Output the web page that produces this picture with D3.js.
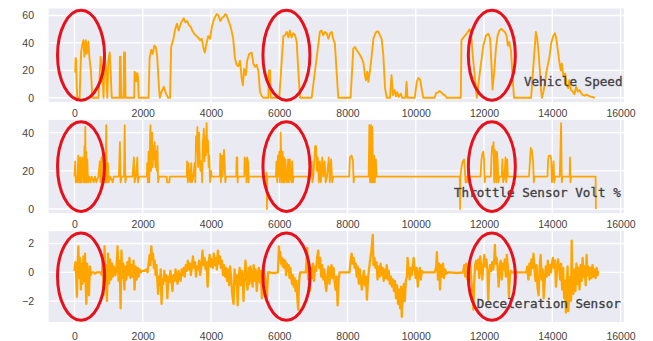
<!DOCTYPE html>
<html>
<head>
<meta charset="utf-8">
<script src="https://cdn.jsdelivr.net/npm/d3@7"></script>
<style>
  html, body { margin: 0; padding: 0; background: #ffffff; }
  svg { display: block; }
</style>
</head>
<body>
<svg id="chart" width="653" height="341"></svg>
<script>
// ---- recorded signals: [sample index, value] ----
const speedPts = [
  [0,19],[20,19],[30,29],[45,28],[65,8],[80,0],[150,0],[190,33],[230,39],[260,42],[290,30],[330,42],[356,32],[405,41],[434,30],[483,19],[522,0],
  [700,0],[730,13],[765,30],[810,22],[850,0],[880,31],[920,22],[960,0],[990,27],[1030,33],[1060,18],[1090,0],
  [1320,0],[1330,30],[1350,30],[1370,0],[1440,0],[1450,33],[1480,33],[1495,0],
  [1750,0],[1760,19],[1790,17],[1810,12],[1840,18],[1860,15],[1880,0],
  [2170,0],[2200,29],[2250,35],[2290,32],[2340,38],[2380,37],[2420,31],[2470,9],[2500,0],[2560,5],[2620,8],[2680,3],[2740,0],[2800,0],
  [2830,37],[2900,43],[2950,50],[3000,54],[3050,49],[3100,53],[3150,56],[3200,58],[3250,55],[3300,56],[3350,53],[3400,52],[3450,49],[3500,47],
  [3550,45.5],[3620,44],[3680,42],[3730,43],[3780,36],[3820,33],[3870,40],[3920,45],[3970,43],[4020,51],[4070,56],[4120,59],[4170,61],[4220,60],
  [4270,56],[4320,58],[4370,59],[4420,61],[4460,60],[4510,56],[4560,53],[4600,49],[4650,43],[4700,29],[4750,24],[4800,23],[4850,27],[4900,14],
  [4935,9],[4970,21],[5020,16.5],[5060,27],[5120,32],[5190,33],[5240,25],[5290,22.5],[5340,24],[5390,19],[5435,4.4],[5480,1.5],[5530,0],
  [5680,0],[5700,20],[5730,20],[5750,0],
  [6000,0],[6120,45],[6170,45.5],[6220,48],[6270,44],[6310,49],[6360,44],[6410,47],[6460,46],[6510,41],[6560,19],[6610,0],
  [6950,0],[7190,48],[7240,49],[7290,45.5],[7340,48],[7390,47],[7440,43],[7490,47],[7540,48],[7580,43],[7630,39.5],[7680,19],[7730,0],
  [8090,0],[8170,36],[8220,37],[8270,34.6],[8320,33],[8370,31],[8420,28.6],[8470,25],[8510,16.5],[8540,12.8],[8580,19],[8610,11.6],[8660,20],
  [8710,31],[8760,43],[8810,46.7],[8860,48.4],[8910,48],[8950,45.5],[9000,43],[9050,31],[9100,6.8],[9150,0],
  [9245,0],[9290,16.5],[9330,2],[9380,5.6],[9420,1],[9460,4],[9500,0.5],[9560,3],[9600,0],[9700,0],[9730,11.6],[9760,0],
  [9970,0],[10030,11.6],[10080,14.5],[10130,13],[10170,6.8],[10220,0],
  [10550,0],[10600,3.5],[10650,3.9],[10700,4.9],[10750,3.9],[10800,2.5],[10850,2],[10900,0],
  [11320,0],[11340,42],[11400,44],[11450,45.5],[11500,47],[11550,49],[11580,50],[11620,46.7],[11670,31],[11790,0],[11880,19],[11980,38],
  [12060,45.5],[12130,46.7],[12180,43],[12220,23.7],[12250,6],[12300,19],[12350,35.8],[12400,45.5],[12450,49],[12500,50.3],[12560,49],
  [12610,48],[12660,45.5],[12700,38],[12740,40.7],[12790,34.6],[12840,14],[12880,0],
  [13380,0],[13520,48],[13560,43],[13600,33],[13640,19],[13670,5.6],[13700,0],[13740,4],[13790,11.6],[13830,19],[13870,24],[13920,30],
  [13970,40],[14030,45],[14080,47],[14120,43],[14170,33.4],[14210,26],[14250,20],[14280,25],[14330,15.3],[14380,17.7],[14420,9.2],[14470,7],
  [14500,12.8],[14550,5.6],[14600,4.5],[14650,2.6],[14700,8],[14750,4.5],[14800,5.6],[14850,3.2],[14900,2],[14950,1.5],[15000,2.4],[15100,1],[15250,0]
];

const throttlePts = [
  [0,17],[20,25],[35,14],[50,17],[70,14],[90,17],[110,28],[125,14],[140,26],[155,14],[170,27],[185,14],[200,25],[215,14],[230,27],[245,17],
  [260,26],[275,14],[290,33],[300,14],[315,43],[330,14],[345,30],[360,14],[375,26],[390,17],[405,14],[420,17],
  [430,17],[470,14],[500,17],[560,14],[600,17],[640,14],[700,17],[740,25],[760,14],[790,27],[810,14],[840,30],[860,14],[880,25],[900,14],
  [930,44],[950,14],[980,24],[1000,14],[1050,17],[1120,14],[1150,17],[1300,17],[1330,35],[1350,14],[1380,17],[1450,17],[1470,44],[1490,14],
  [1520,17],[1700,17],[1740,27],[1760,14],[1800,17],[1840,27],[1860,14],[1890,17],
  [2120,17],[2130,24],[2150,14],[2170,30],[2190,14],[2210,35],[2225,44],[2240,20],[2260,32],[2275,40],[2290,22],[2310,33],[2330,26],[2350,35],
  [2370,22],[2390,30],[2410,20],[2430,33],[2450,14],[2470,17],
  [2700,17],[2710,14],[2780,14],[2790,17],
  [3290,17],[3300,25],[3320,14],[3340,24],[3360,17],[3390,14],[3420,24],[3440,14],[3480,17],[3520,24],[3540,14],[3560,38],[3580,30],[3600,43],
  [3620,22],[3650,40],[3670,26],[3690,20],[3720,25],[3740,14],[3760,35],[3790,42],[3810,25],[3830,38],[3850,28],[3870,45],[3890,30],[3910,36],
  [3930,22],[3950,28],[3970,14],[4000,20],[4020,17],
  [4260,17],[4270,29],[4290,14],[4320,28],[4340,17],[4380,31],[4400,24],[4420,14],[4440,17],
  [4740,17],[4750,27],[4770,27],[4780,14],[4790,17],
  [4975,17],[4985,27],[5020,26],[5040,14],[5060,27],[5090,24],[5100,14],[5110,17],
  [5620,17],[5630,19],[5640,0],[5650,17],
  [5900,17],[5920,25],[5940,14],[5960,28],[5980,17],[6000,30],[6020,14],[6040,40],[6060,26],[6080,14],[6100,30],[6120,14],[6140,27],[6160,14],
  [6180,26],[6200,17],[6230,14],[6260,26],[6280,14],[6310,26],[6330,17],[6360,14],[6380,25],[6400,14],[6420,17],
  [6850,17],[6870,14],[6900,17],[6950,25],[6970,14],[7000,17],[7050,33],[7080,33],[7100,20],[7130,27],[7160,14],[7190,25],[7220,14],[7260,27],
  [7290,17],[7330,25],[7360,14],[7400,17],[7450,27],[7480,14],[7520,26],[7550,14],[7580,17],
  [8050,17],[8070,27],[8120,28],[8160,25],[8180,14],[8200,17],
  [8620,17],[8640,44],[8660,14],[8690,44],[8710,14],[8730,43],[8750,14],[8780,28],[8800,14],[8830,26],[8850,17],
  [11290,17],[11300,0],[11310,17],[11340,22],[11380,25],[11420,26],[11440,20],[11460,14],[11480,17],[11500,14],[11530,17],
  [11900,17],[11920,25],[11950,29],[11980,30],[12000,26],[12020,14],[12040,17],
  [12200,17],[12220,28],[12240,33],[12260,30],[12280,35],[12300,14],[12320,31],[12340,27],[12360,14],[12380,30],[12400,25],[12420,14],[12450,17],
  [12520,17],[12540,26],[12560,14],[12600,17],[12630,27],[12650,14],[12680,26],[12700,17],
  [13320,17],[13350,26],[13370,32],[13400,31],[13420,28],[13440,25],[13460,14],[13480,17],
  [13860,17],[13880,26],[13900,28],[13950,28],[13970,26],[13990,14],[14010,17],[14040,25],[14060,14],[14080,17],
  [14220,17],[14240,30],[14260,45],[14280,14],[14300,17],
  [14510,17],[14520,27],[14535,14],[14550,17],
  [15270,17],[15280,0]
];

const decelPts = [
  [0,0.1],[25,0.7],[50,-0.3],[70,-1.7],[90,0.4],[112,1.8],[135,-0.4],[160,1.0],[185,-1.2],[210,0.6],[235,-0.8],[260,1.1],[285,-0.6],[307,1.3],
  [330,-1.0],[346,-2.2],[370,0.6],[395,-0.4],[423,-1.6],[450,0.4],[475,-0.2],[501,0],[560,0],[600,-0.1],[650,0],[700,0],[764,0],[800,-0.2],
  [830,0.9],[850,-1.6],[880,1.8],[900,-0.6],[925,0.5],[950,-2.0],[980,1.3],[1010,-0.8],[1040,0.9],[1070,-0.5],[1100,0.6],[1130,-0.3],[1160,0.4],
  [1200,-0.2],[1230,0.2],[1260,1.8],[1290,-0.6],[1320,0.8],[1350,-2.5],[1375,1.5],[1400,-0.4],[1430,0.6],[1460,-1.2],[1490,0.4],
  [1520,-0.5],[1550,0.7],[1580,-0.2],[1610,1.0],[1640,-0.4],[1670,0.5],[1700,-0.3],[1730,0.8],[1760,-1.2],[1790,0.4],[1820,-0.5],[1850,0.3],
  [1880,-0.3],[1910,0.2],[1940,0],[1970,0.1],[2000,0.1],[2050,0.1],[2100,0.2],[2140,0],
  [2180,0.8],[2200,1.2],[2225,0.5],[2250,1.8],[2275,0.9],[2300,1.3],[2325,0.3],[2350,0.8],[2375,-0.2],[2400,0.5],[2425,-0.5],[2450,-1.5],
  [2475,-0.3],[2500,-0.9],[2525,0.2],[2550,-2.2],[2575,-0.5],[2600,-0.8],[2630,0.1],[2660,-0.6],
  [2690,-0.2],[2720,-1.8],[2750,-0.3],[2780,-0.7],[2810,0.1],[2840,-0.5],[2870,-1.3],[2900,-0.2],[2930,-0.6],[2960,0.2],[2990,-0.4],[3020,-0.8],
  [3050,0.1],[3080,-0.3],[3110,-0.6],[3140,0.2],[3170,-0.2],[3200,0.3],[3230,-0.3],
  [3260,0.5],[3290,0.1],[3320,0.8],[3350,0.2],[3380,0.6],[3410,-0.2],[3440,0.4],[3470,1.1],[3500,0.3],[3530,0.7],[3560,-0.3],[3590,0.4],
  [3620,0.2],[3650,0.8],[3680,-0.2],[3710,0.3],
  [3750,1.5],[3780,0.5],[3810,1.0],[3840,0.2],[3870,0.7],[3900,-1.0],[3930,0.6],[3960,1.2],[3990,0.4],[4020,0.9],[4050,0.3],[4080,1.3],
  [4110,0.5],[4140,1.0],[4170,0.2],[4200,1.5],[4230,0.6],[4260,1.1],[4290,0.3],[4320,0.8],[4350,-0.2],[4380,0.5],
  [4410,-0.3],[4440,0.3],[4470,-0.6],[4500,0.2],[4530,-0.9],[4560,0.4],[4590,-0.4],[4620,-1.5],[4660,-2.2],[4690,0.2],[4720,-0.8],[4750,-0.2],
  [4780,-2.3],[4810,-0.4],[4840,0.3],[4870,-0.9],[4900,0.1],[4930,-0.5],[4950,-2.0],[4980,-0.2],
  [5010,0.8],[5040,-0.5],[5070,-1.2],[5100,0.3],[5130,-0.8],[5160,0.4],[5190,-0.3],[5220,-1.0],[5250,0.5],[5280,-0.6],[5310,0.2],[5340,-1.3],
  [5370,-0.2],[5400,0.3],[5430,-0.7],[5460,0.1],[5490,-1.8],[5520,-0.3],[5550,0.2],[5590,-0.5],[5640,-1.7],[5670,0],
  [5720,0],[5800,-0.05],[5900,-0.05],[5960,0],
  [5990,1.8],[6010,1.0],[6030,1.4],[6050,0.6],[6075,1.0],[6100,0.4],[6125,0.9],[6150,0.3],[6175,0.8],[6200,-0.2],[6225,0.6],[6250,0.1],
  [6275,0.5],[6300,-0.4],[6325,0.3],[6350,-0.3],[6375,-0.8],[6400,-0.2],[6425,-1.0],[6450,-0.4],[6475,-1.3],[6500,-0.6],[6530,-1.8],[6555,-2.6],
  [6580,-0.7],[6610,0],[6700,0],[6780,0],
  [6820,1.7],[6845,-0.5],[6870,0.5],[6900,-1.3],[6930,0.3],[6960,-0.4],[6990,0.6],[7020,-0.6],[7050,0.4],[7080,0.1],[7110,1.0],[7140,1.5],
  [7170,0.3],[7200,1.0],[7230,-0.3],[7260,0.5],[7290,-0.5],[7320,0.2],[7350,-0.8],[7380,-1.3],[7410,-0.2],[7440,0.4],[7470,-0.8],[7500,0.1],
  [7530,0.5],[7560,-0.4],[7590,0.3],[7620,-0.6],[7650,-1.2],[7680,-0.3],[7710,-2.3],[7740,-0.5],[7770,0],
  [7800,0],[7900,0],[8000,0],[8060,0],
  [8090,0.8],[8120,1.3],[8150,0.6],[8180,1.0],[8210,0.3],[8240,0.6],[8270,-0.3],[8300,0.4],[8330,-0.8],[8360,0.2],[8390,-0.5],[8420,-1.2],
  [8450,-0.4],[8480,0.1],[8510,-0.9],[8540,-0.3],[8570,-1.9],[8600,-0.5],[8630,0.2],
  [8660,0.8],[8700,1.5],[8740,2.6],[8760,0.5],[8790,1.0],[8820,0.3],[8850,0.7],[8880,-0.5],[8910,0.4],[8940,-0.3],[8970,0.6],[9000,-0.2],
  [9030,0.3],[9060,-0.6],[9090,0.2],[9120,-0.4],[9150,0.5],[9180,-0.5],[9210,0.1],[9240,-0.8],[9270,-0.3],[9300,-1.0],[9330,-0.5],
  [9360,-1.3],[9390,-0.6],[9420,-1.8],[9450,-0.9],[9480,-2.2],[9510,-1.2],[9540,-2.5],[9570,-1.0],[9590,-3.1],[9620,-1.5],[9650,-0.8],
  [9680,-2.0],[9710,-0.6],[9740,-0.3],
  [9760,1.0],[9790,0.2],[9820,-0.5],[9850,0.3],[9880,-0.2],[9910,0.4],[9940,1.0],[9970,0.2],[10000,-0.4],[10030,0.3],[10060,-1.0],[10090,-0.2],
  [10120,0.3],[10150,-0.5],[10180,0.1],[10210,0],
  [10260,0],[10400,0],[10560,0],
  [10600,0.4],[10620,1.4],[10650,-0.5],[10680,0.6],[10710,-1.2],[10740,0.5],[10770,-0.3],[10800,0.6],[10830,-0.4],[10860,0.2],[10900,-0.1],[10950,0],
  [11000,0],[11200,-0.05],[11390,0],
  [11420,0.5],[11450,-0.3],[11480,0.6],[11510,-0.5],[11540,0.3],[11570,-0.2],[11600,0.5],[11630,-0.6],[11660,-1.5],[11690,-2.6],[11710,-0.8],
  [11740,0.5],[11770,0.8],[11800,0.2],[11830,0.9],[11860,-0.4],[11890,1.1],[11920,0.3],[11950,-0.5],[11980,0.5],[12010,1.2],[12040,0.4],
  [12070,0.9],[12100,0.1],[12125,-1.9],[12150,-0.2],[12180,0.5],[12210,0.1],[12240,0.7],[12270,0.2],[12300,0.9],[12320,1.9],[12340,0.6],
  [12370,1.0],[12400,0.3],[12430,-1.0],[12460,0.4],[12490,0.8],[12520,-0.5],[12550,0.6],[12580,0.2],[12610,0.9],[12640,-0.3],[12670,1.2],
  [12700,0.3],[12730,-1.7],[12760,-0.2],[12790,0.1],[12810,0],
  [12900,0],[13100,0],[13240,0],
  [13270,0.4],[13300,-0.5],[13330,0.6],[13360,-0.2],[13390,0.9],[13420,0.3],[13450,1.3],[13480,0.2],[13510,-0.6],[13540,0.5],[13570,-1.1],
  [13600,-1.6],[13630,0.3],[13660,1.2],[13690,-0.5],[13720,0.2],[13750,-1.8],[13780,-0.6],[13810,0.4],[13840,-0.3],[13870,0.8],[13900,-0.2],
  [13930,0.5],[13960,0],[13990,0.6],[14020,1.0],[14050,0.3],[14080,0.8],[14110,-1.0],[14140,0.2],[14170,0.9],[14200,0.4],[14230,-0.5],
  [14260,0.6],[14290,-1.2],[14320,0.3],[14350,-1.8],[14380,-0.6],[14400,-2.8],[14420,-1.0],[14450,0.4],[14470,-2.7],[14500,-1.2],[14530,-0.3],
  [14550,-2.0],[14570,2.2],[14590,-0.8],[14620,-1.5],[14650,0.2],[14680,-1.3],[14710,0.6],[14740,-0.8],[14770,0.3],[14800,-1.2],[14830,0.5],
  [14860,-0.6],[14890,1.0],[14920,-0.3],[14950,0.4],[14980,-0.9],[15007,1.2],[15030,-0.2],[15060,0.4],[15090,-0.5],[15120,0.3],[15150,-0.4],
  [15180,0.5],[15210,-0.3],[15240,0.2],[15270,-0.4],[15300,0.3],[15330,-0.2],[15350,0.1]
];

// ---- tick values and names ----
const xTicks = [0, 2000, 4000, 6000, 8000, 10000, 12000, 14000, 16000];
const speedTicks = [0, 20, 40, 60];
const throttleTicks = [0, 20, 40];
const decelTicks = [-2, 0, 2];
const seriesNames = ["Vehicle Speed", "Throttle Sensor Volt %", "Deceleration Sensor"];
// sample indices of the three highlighted driving events
const highlightCenters = [190, 6210, 12230];

// ---- layout ----
const panels = [
  { pts: speedPts,    ticks: speedTicks,    domain: [-3.1, 65.1],  top: 8.5,   bottom: 102,   labelY: 117, note: [13170, 8.5],  width: 1.9 },
  { pts: throttlePts, ticks: throttleTicks, domain: [-2.2, 46.7],  top: 119.9, bottom: 213.2, labelY: 228, note: [11120, 6.2],  width: 1.8 },
  { pts: decelPts,    ticks: decelTicks,    domain: [-3.46, 2.86], top: 231.1, bottom: 322.1, labelY: 340, note: [11790, -2.5], width: 2.3 }
];

const svg = d3.select("#chart");
const x = d3.scaleLinear().domain([-760, 16100]).range([48.6, 623.9]);

panels.forEach((p, i) => {
  const y = d3.scaleLinear().domain(p.domain).range([p.bottom, p.top]);
  const g = svg.append("g");

  // axes background
  g.append("rect")
    .attr("x", x.range()[0]).attr("y", p.top)
    .attr("width", x.range()[1] - x.range()[0])
    .attr("height", p.bottom - p.top)
    .attr("fill", "#EAEAF2");

  // grid
  g.selectAll(".vg").data(xTicks).join("line")
    .attr("x1", d => x(d)).attr("x2", d => x(d))
    .attr("y1", p.top).attr("y2", p.bottom)
    .attr("stroke", "#ffffff").attr("stroke-width", 1.3);
  g.selectAll(".hg").data(p.ticks).join("line")
    .attr("x1", x.range()[0]).attr("x2", x.range()[1])
    .attr("y1", d => y(d)).attr("y2", d => y(d))
    .attr("stroke", "#ffffff").attr("stroke-width", 1.3);

  // tick labels
  const xAxis = d3.axisBottom(x).tickValues(xTicks).tickSize(0).tickPadding(0)
    .tickFormat(d3.format("d"));
  const xa = g.append("g").attr("transform", `translate(0,${p.labelY})`).call(xAxis);
  xa.select(".domain").remove();
  xa.selectAll("text").attr("dy", 0).attr("y", 0);

  const yAxis = d3.axisLeft(y).tickValues(p.ticks).tickSize(0).tickPadding(0)
    .tickFormat(d => d < 0 ? "\u2212" + Math.abs(d) : String(d));
  const ya = g.append("g").attr("transform", "translate(34,0)").call(yAxis);
  ya.select(".domain").remove();

  svg.selectAll(".tick text")
    .attr("font-family", "'Liberation Sans', Arial, sans-serif")
    .attr("font-size", 10.5)
    .attr("fill", "#444");

  // series line
  const line = d3.line().x(d => x(d[0])).y(d => y(d[1]));
  g.append("path")
    .datum(p.pts)
    .attr("d", line)
    .attr("fill", "none")
    .attr("stroke", "#FFA500")
    .attr("stroke-width", p.width)
    .attr("stroke-linejoin", "round");

  // series name inside the axes
  g.append("text")
    .attr("x", x(p.note[0])).attr("y", y(p.note[1]))
    .attr("font-family", "'DejaVu Sans Mono', 'Liberation Mono', monospace")
    .attr("font-size", 12.6)
    .attr("fill", "#333")
    .attr("stroke", "#555")
    .attr("stroke-width", 0.35)
    .text(seriesNames[i]);

  // highlighted events
  const cy = (p.top + p.bottom) / 2;
  const ry = (p.bottom - p.top) / 2 - 1.8;
  g.selectAll(".hl").data(highlightCenters).join("ellipse")
    .attr("cx", d => x(d)).attr("cy", cy)
    .attr("rx", 23.5).attr("ry", ry)
    .attr("fill", "none")
    .attr("stroke", "#E8101A")
    .attr("stroke-width", 3);
});
</script>
</body>
</html>
